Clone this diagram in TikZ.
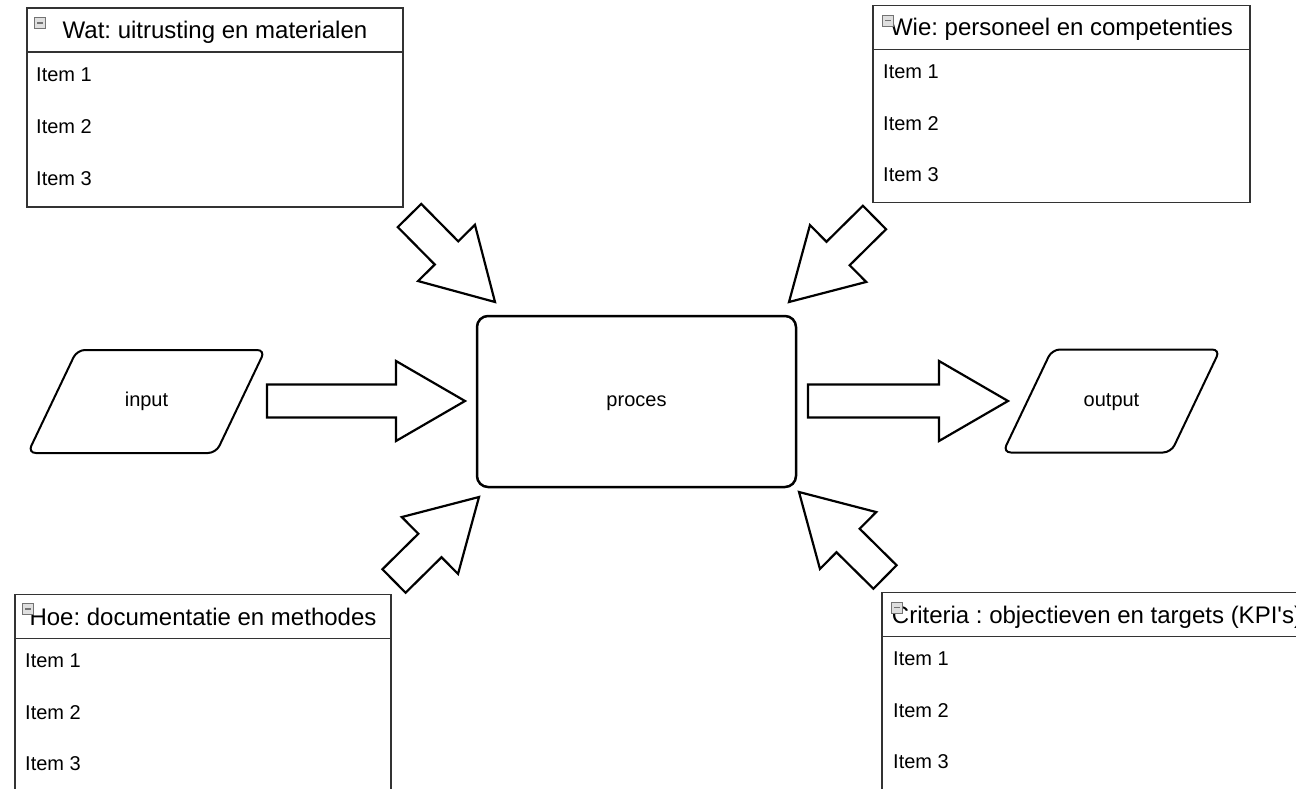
\documentclass[tikz,border=0pt]{standalone}
\usepackage{fontspec}
\setmainfont{Liberation Sans}
\frenchspacing
\usetikzlibrary{positioning, calc, shapes.geometric}
\tikzset{
	x=1pt, y=-1pt,
	listhead/.style={draw=black!80, line width=1.3pt, minimum width=376pt, minimum height=44pt, inner sep=0pt, outer sep=0pt, text height=20pt, text depth=3pt, font=\fontsize{24}{28}\selectfont},
	listbody/.style={draw=black!80, line width=1.3pt, minimum width=376pt, inner sep=0pt, outer sep=0pt},
	listitem/.style={anchor=west, inner sep=0pt, font=\fontsize{20}{24}\selectfont},
	togglebox/.style={draw=black!55, fill=gray!25, minimum size=11pt, inner sep=0pt,
		path picture={\draw[line width=1.3pt] ([xshift=-3pt]path picture bounding box.center) -- ([xshift=3pt]path picture bounding box.center);}},
	io/.style={trapezium, trapezium left angle=64.5, trapezium right angle=115.5, draw, line width=2pt, rounded corners=8pt, inner ysep=42.5pt, text height=14pt, text depth=4pt, font=\fontsize{20}{24}\selectfont},
	procbox/.style={draw, line width=2.5pt, rounded corners=11pt, minimum width=319pt, minimum height=171pt, text height=10pt, text depth=0pt, font=\fontsize{20}{24}\selectfont},
	blockarr/.style={draw, line width=2.2pt, fill=white}
}
% block arrow from tail #1 to tip #2, #3 names the base of the head
\newcommand{\blockarrow}[3]{%
	\coordinate (#3) at ($(#2)!69pt!(#1)$);
	\draw[blockarr] ($(#1)!16.5pt!90:(#2)$) -- ($(#3)!16.5pt!90:(#2)$) -- ($(#3)!40pt!90:(#2)$) -- (#2)
		-- ($(#3)!40pt!-90:(#2)$) -- ($(#3)!16.5pt!-90:(#2)$) -- ($(#1)!16.5pt!-90:(#2)$) -- cycle;
}

\begin{document}
\begin{tikzpicture}
\useasboundingbox (0,0) rectangle (1296,789);
\clip (0,0) rectangle (1296,789);
\fill[white] (0,0) rectangle (1296,789);

% process flow
\node (input) [io, inner xsep=47.8pt] at (146.5,401.5) {input};
\node (proces) [procbox] at (636.5,401.5) {proces};
\node (output) [io, inner xsep=31.7pt] at (1111.5,401) {output};

% lists
\node (wathead) [listhead] at (215,30) {Wat: uitrusting en materialen};
\node (watbody) [listbody, minimum height=155pt, below=0pt of wathead] {};
\node (watbtn) [togglebox] at (40,23) {};
\node (wat1) [listitem] at (36,75) {Item 1};
\node (wat2) [listitem] at (36,127) {Item 2};
\node (wat3) [listitem] at (36,179) {Item 3};

\node (wiehead) [listhead, minimum width=377pt] at (1061.5,27.5) {Wie: personeel en competenties};
\node (wiebody) [listbody, minimum width=377pt, minimum height=153pt, below=0pt of wiehead] {};
\node (wiebtn) [togglebox] at (888,20.5) {};
\node (wie1) [listitem] at (883,72) {Item 1};
\node (wie2) [listitem] at (883,124) {Item 2};
\node (wie3) [listitem] at (883,175) {Item 3};

\node (hoehead) [listhead] at (203,616.5) {Hoe: documentatie en methodes};
\node (hoebody) [listbody, minimum height=161pt, below=0pt of hoehead] {};
\node (hoebtn) [togglebox] at (28,609) {};
\node (hoe1) [listitem] at (25,661) {Item 1};
\node (hoe2) [listitem] at (25,713) {Item 2};
\node (hoe3) [listitem] at (25,764) {Item 3};

\node (crithead) [listhead, minimum width=430pt] at (1097,614.5) {Criteria : objectieven en targets (KPI\textquotesingle s)};
\node (critbody) [listbody, minimum width=430pt, minimum height=163pt, below=0pt of crithead] {};
\node (critbtn) [togglebox] at (897,607.5) {};
\node (crit1) [listitem] at (893,659) {Item 1};
\node (crit2) [listitem] at (893,711) {Item 2};
\node (crit3) [listitem] at (893,762) {Item 3};

% arrow ends
\coordinate (inA) at (267,401); \coordinate (inB) at (465,401);
\coordinate (outA) at (808,401); \coordinate (outB) at (1008,401);
\coordinate (watA) at (409.5,215.5); \coordinate (watB) at (495,302);
\coordinate (wieA) at (874.5,217.5); \coordinate (wieB) at (789,302);
\coordinate (hoeA) at (394,581); \coordinate (hoeB) at (479,497);
\coordinate (critA) at (885,577); \coordinate (critB) at (799,492);

\blockarrow{inA}{inB}{inH}
\blockarrow{outA}{outB}{outH}
\blockarrow{watA}{watB}{watH}
\blockarrow{wieA}{wieB}{wieH}
\blockarrow{hoeA}{hoeB}{hoeH}
\blockarrow{critA}{critB}{critH}
\end{tikzpicture}
\end{document}
